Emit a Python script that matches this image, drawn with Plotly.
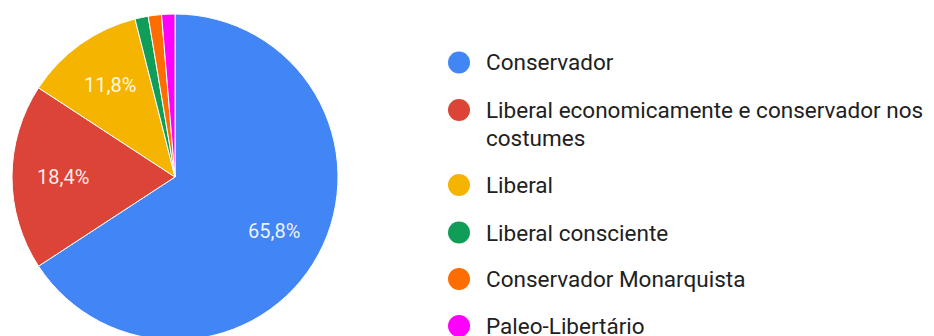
import math
import plotly.graph_objects as go

labels = [
    "Conservador",
    "Liberal economicamente e conservador nos costumes",
    "Liberal",
    "Liberal consciente",
    "Conservador Monarquista",
    "Paleo-Libertário",
]
legend_lines = [
    ["Conservador"],
    ["Liberal economicamente e conservador nos", "costumes"],
    ["Liberal"],
    ["Liberal consciente"],
    ["Conservador Monarquista"],
    ["Paleo-Libertário"],
]
counts = [50, 14, 9, 1, 1, 1]
colors = ["#4285F4", "#DB4437", "#F4B400", "#0F9D58", "#FF6D01", "#FF00FF"]
show_pct = [True, True, True, False, False, False]

W, H = 934, 336
OFF = 8  # page body margin; convert screen px to figure px


def px(x):
    return (x - OFF) / W


def py(y):
    return 1 - (y - OFF) / H


fig = go.Figure()

# pie geometry (screen pixels)
cx, cy, r = 175, 177, 163
fig.add_trace(go.Pie(
    labels=labels,
    values=counts,
    sort=False,
    direction="clockwise",
    rotation=0,
    marker=dict(colors=colors, line=dict(color="white", width=1)),
    textinfo="none",
    hoverinfo="label+percent",
    showlegend=False,
    domain=dict(x=[px(cx - r), px(cx + r)], y=[py(cy + r), py(cy - r)]),
))

# percentage labels placed at slice mid-angles
total = sum(counts)
acc = 0
for c, s in zip(counts, show_pct):
    mid = (acc + c / 2) / total * 2 * math.pi
    acc += c
    if not s:
        continue
    lx = cx + 0.69 * r * math.sin(mid)
    ly = cy - 0.69 * r * math.cos(mid)
    pct = f"{100 * c / total:.1f}".replace(".", ",") + "%"
    fig.add_annotation(xref="paper", yref="paper", x=px(lx), y=py(ly),
                       xanchor="center", yanchor="middle", text=pct,
                       showarrow=False,
                       font=dict(family="Roboto", size=20,
                                 color="rgba(255,255,255,0.92)"))

# manual legend
leg_x_dot = 459
leg_x_txt = 484
leg_y = [62.5, 110, 185, 232.5, 279, 326]
line_gap = 28
dot_r = 11
for lines, col, y in zip(legend_lines, colors, leg_y):
    fig.add_shape(type="circle", xref="paper", yref="paper",
                  x0=px(leg_x_dot - dot_r), x1=px(leg_x_dot + dot_r),
                  y0=py(y + dot_r), y1=py(y - dot_r),
                  fillcolor=col, line=dict(width=0))
    for i, ln in enumerate(lines):
        fig.add_annotation(xref="paper", yref="paper",
                           x=px(leg_x_txt), y=py(y + i * line_gap),
                           xanchor="left", yanchor="middle", align="left",
                           text=ln, showarrow=False,
                           font=dict(family="Roboto", size=22.5,
                                     color="#212121"))

fig.update_layout(
    width=W, height=H,
    margin=dict(l=0, r=0, t=0, b=0),
    paper_bgcolor="white", plot_bgcolor="white",
)
fig.write_html("out.html")
